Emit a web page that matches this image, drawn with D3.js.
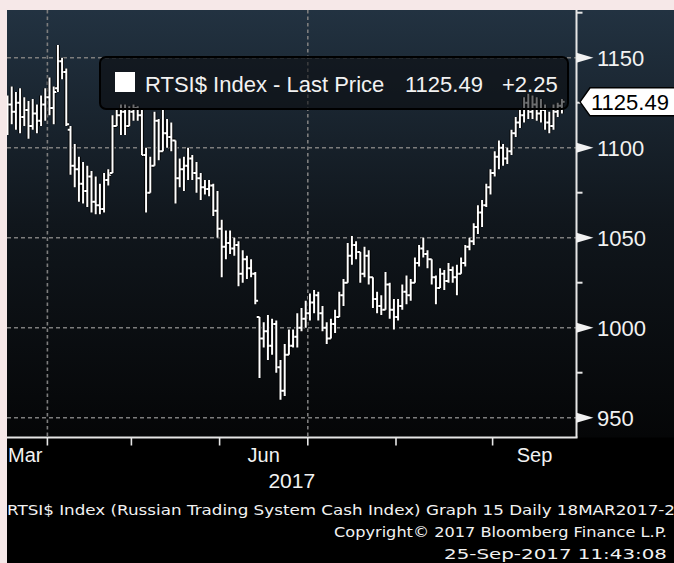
<!DOCTYPE html>
<html><head><meta charset="utf-8">
<script src="https://cdn.jsdelivr.net/npm/d3@7"></script>
<style>
html,body{margin:0;padding:0;background:#f6e8e8;}
svg{display:block;}
</style></head>
<body>
<svg id="chart" width="674" height="563"></svg>
<script>
// ---------- data ----------
const openVals = [1118,1124,1120,1125,1117,1121,1112,1119,1115,1124,
1128,1122,1133,1148,1142,1110,1090,1088,1080,1076,
1084,1070,1068,1066,1082,1086,1112,1118,1120,1112,
1120,1122,1118,1096,1075,1090,1115,1098,1108,1106,
1104,1083,1088,1090,1094,1086,1083,1078,1077,1079,
1065,1055,1045,1047,1044,1046,1030,1038,1033,1030,
1006,994,998,990,1002,978,965,985,990,995,
1000,1005,1008,1014,1018,1008,1000,994,1002,1006,
1018,1025,1040,1046,1042,1030,1040,1028,1016,1012,
1010,1024,1010,1006,1012,1020,1018,1025,1036,1044,
1041,1038,1028,1022,1030,1026,1032,1028,1030,1036,
1045,1048,1056,1064,1068,1078,1086,1095,1100,1094,
1098,1108,1114,1118,1125,1120,1124,1119,1121,1114,
1112,1120,1123.24];
const highVals = [1129,1134,1131,1133,1128,1126,1127,1124,1129,1133,
1139,1134,1157,1150,1144,1112,1102,1095,1092,1090,
1087,1084,1080,1086,1088,1118,1121,1124,1124,1123,
1124,1123,1121,1100,1095,1120,1116,1121,1116,1114,
1104,1094,1095,1100,1096,1092,1086,1082,1082,1080,
1076,1060,1054,1054,1050,1048,1043,1040,1038,1031,
1006,1003,1007,1005,1004,982,991,999,999,1008,
1011,1015,1019,1021,1020,1012,1003,1005,1010,1020,
1027,1047,1051,1048,1042,1045,1043,1028,1020,1018,
1031,1025,1016,1016,1024,1029,1027,1039,1046,1050,
1043,1038,1029,1033,1032,1036,1034,1035,1039,1046,
1050,1058,1068,1071,1080,1088,1098,1104,1102,1100,
1110,1117,1121,1128,1130,1129,1128,1127,1124,1120,
1124,1125,1127];
const lowVals = [1107,1113,1110,1108,1112,1105,1110,1108,1112,1115,
1118,1113,1131,1138,1112,1085,1078,1070,1069,1067,
1064,1063,1063,1064,1079,1086,1112,1107,1107,1112,
1115,1115,1096,1064,1075,1090,1093,1098,1100,1098,
1069,1078,1076,1082,1082,1075,1071,1074,1073,1062,
1050,1028,1038,1041,1040,1023,1025,1027,1028,1013,
972,989,982,985,975,960,962,985,989,989,
998,1000,1004,1008,1004,998,991,994,997,1006,
1012,1025,1035,1038,1025,1028,1024,1011,1008,1007,
1010,1005,999,1004,1010,1013,1015,1025,1034,1039,
1033,1024,1013,1022,1021,1025,1025,1018,1030,1034,
1043,1046,1052,1056,1067,1074,1084,1088,1090,1091,
1096,1106,1111,1114,1116,1116,1115,1114,1110,1108,
1110,1117,1119];
const closeVals = [1124,1120,1125,1117,1121,1112,1119,1115,1124,1128,
1122,1131,1148,1142,1113,1090,1088,1080,1076,1084,
1070,1068,1066,1082,1085,1112,1118,1120,1112,1120,
1122,1118,1096,1075,1090,1115,1098,1108,1106,1104,
1083,1088,1090,1094,1086,1083,1078,1077,1079,1065,
1055,1045,1047,1044,1046,1030,1038,1033,1030,1015,
994,998,990,1002,978,965,985,990,995,1000,
1005,1008,1014,1018,1008,1000,994,1002,1006,1018,
1025,1040,1046,1042,1030,1040,1028,1016,1012,1010,
1024,1010,1006,1012,1020,1018,1025,1036,1044,1041,
1038,1028,1022,1030,1026,1032,1028,1030,1036,1045,
1048,1056,1064,1068,1078,1086,1095,1100,1094,1098,
1108,1114,1118,1125,1120,1124,1119,1121,1114,1112,
1120,1123.24,1125.49];
const holidays = ["2017-05-01","2017-05-09","2017-06-12"];
const yTicks = [950,1000,1050,1100,1150];
const yMinorTicks = [975,1025,1075,1125,1175];
const monthLabels = {2:"Mar",5:"Jun",8:"Sep"};
const yearLabel = "2017";
const legendName = "RTSI$ Index - Last Price";
const lastPrice = 1125.49;
const lastChange = "+2.25";
const footerLines = [
  "RTSI$ Index (Russian Trading System Cash Index) Graph 15  Daily 18MAR2017-2",
  "Copyright\u00A9 2017 Bloomberg Finance L.P.",
  "25-Sep-2017 11:43:08"
];

// trading dates (weekdays, exchange holidays removed)
const fmt = d3.timeFormat("%Y-%m-%d");
const dates = d3.timeDay.range(new Date(2017,2,20), new Date(2017,8,26))
  .filter(d => d.getDay() % 6 !== 0 && !holidays.includes(fmt(d)));
const data = dates.map((d,i) => ({d, o:openVals[i], h:highVals[i], l:lowVals[i], c:closeVals[i]}));

// ---------- layout ----------
const W = 674, H = 563;
const panelX = 7, panelY = 10;
const axisX = 576.5, axisY = 437.5;
const FONT = "'Liberation Sans', Arial, sans-serif";

const svg = d3.select("#chart");
const x = d3.scaleLinear().domain([0, data.length - 1]).range([7.5, 7.5 + 4.2 * (data.length - 1)]);
const y = d3.scaleLinear().domain([950, 1150]).range([417.7, 57.7]);

const defs = svg.append("defs");
const grad = defs.append("linearGradient").attr("id","bg").attr("x1",0).attr("y1",0).attr("x2",0).attr("y2",1);
grad.append("stop").attr("offset","0%").attr("stop-color","#223241");
grad.append("stop").attr("offset","50%").attr("stop-color","#10161c");
grad.append("stop").attr("offset","100%").attr("stop-color","#050607");
defs.append("clipPath").attr("id","plotclip").append("rect")
  .attr("x",panelX).attr("y",panelY).attr("width",axisX-panelX).attr("height",axisY-panelY);

svg.append("rect").attr("width",W).attr("height",H).attr("fill","#f6e8e8");
svg.append("rect").attr("x",panelX).attr("y",panelY).attr("width",W-panelX).attr("height",H-panelY).attr("fill","#000");
svg.append("rect").attr("x",panelX).attr("y",panelY).attr("width",W-panelX).attr("height",axisY-panelY).attr("fill","url(#bg)");

// month boundaries
const bounds = [];
for (let i = 1; i < data.length; i++) {
  if (data[i].d.getMonth() !== data[i-1].d.getMonth()) bounds.push({i, m: data[i].d.getMonth(), x: x(i - 0.5)});
}

// grid
const grid = svg.append("g").attr("stroke","#7d7d7d").attr("stroke-width",1.6).attr("fill","none");
grid.selectAll("line.h").data(yTicks).join("line").attr("class","h")
  .attr("x1",panelX).attr("x2",axisX).attr("y1",d=>y(d)).attr("y2",d=>y(d))
  .attr("stroke-dasharray","4,3");
grid.selectAll("line.v").data(bounds.filter(b => b.m % 3 === 0)).join("line").attr("class","v")
  .attr("x1",d=>d.x).attr("x2",d=>d.x).attr("y1",panelY).attr("y2",axisY)
  .attr("stroke-dasharray","3.5,3");

// OHLC bars
const barPath = d => {
  const cx = x(data.indexOf(d));
  return `M${cx},${y(d.h)}V${y(d.l)}M${cx-2.8},${y(d.o)}H${cx}M${cx},${y(d.c)}H${cx+2.8}`;
};
const bars = svg.append("g").attr("clip-path","url(#plotclip)");
data.forEach(d => {
  bars.append("path").attr("d", barPath(d)).attr("fill","none").attr("stroke","#000").attr("stroke-width",3.8);
  bars.append("path").attr("d", barPath(d)).attr("fill","none").attr("stroke","#ffffff").attr("stroke-width",2);
});

// legend box
const lg = svg.append("g");
lg.append("rect").attr("x",100).attr("y",57).attr("width",468).attr("height",52).attr("rx",6)
  .attr("fill","#0b0d10").attr("fill-opacity",0.6).attr("stroke","#000").attr("stroke-width",2);
lg.append("rect").attr("x",115).attr("y",72).attr("width",20).attr("height",20).attr("fill","#fff");
lg.append("text").attr("x",145).attr("y",92).text(legendName);
lg.append("text").attr("x",405).attr("y",92).text(d3.format(".2f")(lastPrice));
lg.append("text").attr("x",502).attr("y",92).text(lastChange);
lg.selectAll("text").attr("font-family",FONT).attr("font-size",22).attr("fill","#f2f2f2");

// right axis
const ra = svg.append("g");
ra.append("line").attr("x1",axisX).attr("x2",axisX).attr("y1",panelY).attr("y2",axisY).attr("stroke","#e6e6e6").attr("stroke-width",2);
ra.selectAll("line.minor").data(yMinorTicks).join("line").attr("class","minor")
  .attr("x1",axisX).attr("x2",axisX+6).attr("y1",d=>y(d)).attr("y2",d=>y(d)).attr("stroke","#e6e6e6").attr("stroke-width",2);
ra.selectAll("path.maj").data(yTicks).join("path").attr("class","maj")
  .attr("d",d=>`M${axisX},${y(d)-5}L${axisX+17},${y(d)}L${axisX},${y(d)+5}Z`).attr("fill","#f2f2f2");
ra.selectAll("text").data(yTicks).join("text")
  .attr("x",597).attr("y",d=>y(d)+8).text(d=>d)
  .attr("font-family",FONT).attr("font-size",22).attr("fill","#f2f2f2");

// last price tag
const ty = y(lastPrice);
svg.append("path").attr("d",`M580,${ty}L590,${ty-14}H676V${ty+14}H590Z`)
  .attr("fill","#fff").attr("stroke","#000").attr("stroke-width",1.5);
svg.append("text").attr("x",591).attr("y",ty+8).text(d3.format(".2f")(lastPrice))
  .attr("font-family",FONT).attr("font-size",22).attr("fill","#000");

// bottom axis
const ba = svg.append("g");
ba.append("line").attr("x1",panelX).attr("x2",axisX+1).attr("y1",axisY).attr("y2",axisY).attr("stroke","#e6e6e6").attr("stroke-width",2);
ba.selectAll("line.t").data(bounds).join("line").attr("class","t")
  .attr("x1",d=>d.x).attr("x2",d=>d.x).attr("y1",axisY).attr("y2",axisY+8).attr("stroke","#e6e6e6").attr("stroke-width",1.6);
const months = d3.groups(data.map((d,i)=>({m:d.d.getMonth(), i})), d=>d.m);
months.forEach(([m, arr]) => {
  if (!(m in monthLabels)) return;
  const b0 = bounds.find(b => b.m === m);
  const b1 = bounds.find(b => b.m === m + 1);
  const s = b0 ? b0.x : panelX;
  const e = b1 ? b1.x : axisX;
  const t = ba.append("text").text(monthLabels[m]).attr("y",462)
    .attr("font-family",FONT).attr("font-size",20).attr("fill","#f2f2f2");
  if (!b0) t.attr("x", panelX + 1).attr("text-anchor","start");
  else t.attr("x",(s+e)/2).attr("text-anchor","middle");
});
ba.append("text").attr("x",(panelX+axisX)/2).attr("y",488).attr("text-anchor","middle").text(yearLabel)
  .attr("font-family",FONT).attr("font-size",21).attr("fill","#f2f2f2");

// footer
const ft = svg.append("g").attr("font-family","'DejaVu Sans', sans-serif").attr("font-size",14.5).attr("fill","#f2f2f2");
ft.append("text").attr("x",7).attr("y",515).text(footerLines[0]).attr("textLength",668).attr("lengthAdjust","spacingAndGlyphs");
ft.append("text").attr("x",334).attr("y",537).text(footerLines[1]).attr("textLength",333).attr("lengthAdjust","spacingAndGlyphs");
ft.append("text").attr("x",444).attr("y",559).text(footerLines[2]).attr("textLength",223).attr("lengthAdjust","spacingAndGlyphs");
</script>
</body></html>
